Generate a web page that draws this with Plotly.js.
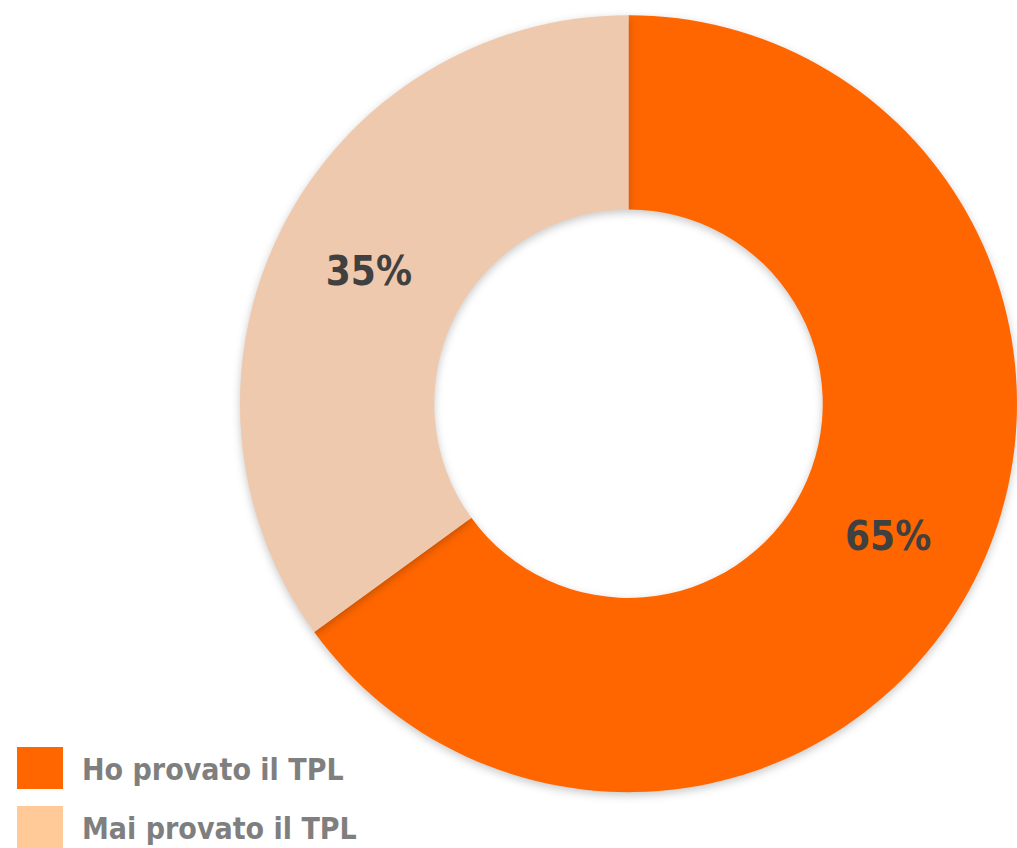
<!DOCTYPE html>
<html>
<head>
<meta charset="utf-8">
<script src="https://cdn.plot.ly/plotly-3.0.1.min.js"></script>
<style>
html,body{margin:0;padding:0;background:#fff;}
#chart{width:1017px;height:848px;}
.pielayer path.surface{filter:drop-shadow(0px 3px 4px rgba(0,0,0,0.22));}
</style>
</head>
<body>
<div id="chart"></div>
<script>
const labels = ["Ho provato il TPL", "Mai provato il TPL"];
const values = [65, 35];
const sliceColors = ["#FF6600", "#EFC9AE"];
const legendColors = ["#FF6600", "#FFC998"];

const FONT = "'DejaVu Sans Condensed', Roboto, sans-serif";

const pie = {
  type: "pie",
  labels: labels,
  values: values,
  hole: 0.5,
  sort: false,
  direction: "clockwise",
  rotation: 0,
  marker: {colors: sliceColors, line: {width: 0}},
  textinfo: "percent",
  texttemplate: "%{percent:.0%}",
  textposition: "inside",
  insidetextorientation: "horizontal",
  insidetextfont: {family: FONT, size: 40, color: "#404040", weight: "bold"},
  domain: {x: [0.236, 1], y: [0.064, 0.984]},
  showlegend: false,
  hoverinfo: "label+percent"
};

const shapes = [];
const annotations = [];
const legTop = [747, 806];
labels.forEach((lab, i) => {
  const y0 = legTop[i], y1 = legTop[i] + 42;
  shapes.push({type: "rect", xref: "paper", yref: "paper",
    x0: 17 / 1017, x1: 63 / 1017, y0: 1 - y1 / 848, y1: 1 - y0 / 848,
    fillcolor: legendColors[i], line: {width: 0}});
  annotations.push({xref: "paper", yref: "paper", x: 80 / 1017, y: 1 - (y0 + 22) / 848,
    xanchor: "left", yanchor: "middle", showarrow: false, text: lab,
    font: {family: FONT, size: 30, color: "#7F7F7F", weight: "bold"}});
});

const layout = {
  width: 1017, height: 848,
  margin: {l: 0, r: 0, t: 0, b: 0},
  paper_bgcolor: "#ffffff",
  plot_bgcolor: "#ffffff",
  showlegend: false,
  shapes: shapes,
  annotations: annotations
};

Plotly.newPlot("chart", [pie], layout, {displayModeBar: false, staticPlot: true});
</script>
</body>
</html>
